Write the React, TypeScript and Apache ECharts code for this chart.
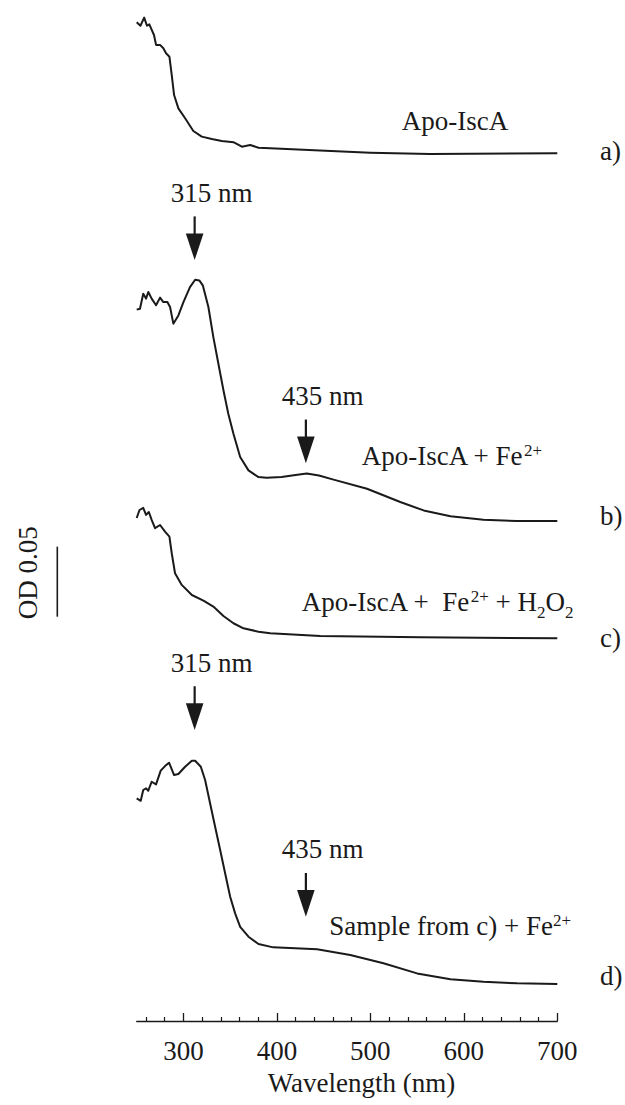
import React, { useEffect, useRef } from "react";
import * as echarts from "echarts";

// ---- Data ----
const MAJOR_TICKS = [300, 400, 500, 600, 700];
const MINOR_TICKS = [260, 280, 320, 340, 360, 380, 420, 440, 460, 480, 520, 540, 560, 580, 620, 640, 660, 680];

// a) Apo-IscA
const NM_A = [250, 254, 258, 261, 263.5, 265.6, 268.5, 270.7, 275, 278.5, 281.4, 285, 287.5, 290, 294.6, 301.8, 310.6, 319.6, 330.4, 341, 353.5, 362.5, 371.4, 380.3, 392.8, 446, 500, 564, 700];
const OD_A = [0.0936, 0.0911, 0.0969, 0.0911, 0.0921, 0.0888, 0.0845, 0.0774, 0.0774, 0.075, 0.0714, 0.069, 0.0559, 0.0416, 0.0321, 0.025, 0.0159, 0.0119, 0.0102, 0.0088, 0.0079, 0.0047, 0.0059, 0.004, 0.0036, 0.0019, 0.0004, -0.0005, 0];

// b) Apo-IscA + Fe2+
const NM_B = [250, 253.5, 257, 260, 262.4, 266, 270.7, 275, 278.5, 282.8, 285.7, 289.2, 294.6, 300, 307, 312.5, 317, 320.7, 326.7, 332, 337.4, 342.8, 348, 353.5, 360.7, 369.6, 380.3, 389, 405, 420, 432, 445, 460.6, 496.4, 532, 557, 585.7, 621, 657, 700];
const OD_B = [0.151, 0.1517, 0.1624, 0.1589, 0.1636, 0.1589, 0.1541, 0.1596, 0.1564, 0.1564, 0.1529, 0.141, 0.1469, 0.1564, 0.1671, 0.1724, 0.1719, 0.1684, 0.1529, 0.1314, 0.1124, 0.0934, 0.0767, 0.0624, 0.0457, 0.0362, 0.0314, 0.031, 0.0314, 0.0329, 0.0339, 0.0325, 0.0296, 0.0231, 0.0136, 0.0076, 0.0034, 0.001, 0, 0];

// c) Apo-IscA + Fe2+ + H2O2
const NM_C = [250, 253, 257, 260, 263, 266, 269.6, 275, 280.3, 285, 287.5, 291, 298.2, 309, 321.4, 332, 342.8, 353.5, 364.2, 380.3, 392.8, 446.4, 553.6, 700];
const OD_C = [0.0859, 0.0916, 0.0931, 0.0881, 0.0902, 0.0845, 0.0786, 0.0809, 0.0761, 0.0726, 0.0607, 0.0464, 0.0381, 0.0309, 0.0269, 0.0226, 0.0159, 0.0107, 0.0071, 0.0047, 0.0036, 0.0016, 0.0007, 0];

// d) Sample from c) + Fe2+
const NM_D = [250, 254.3, 257, 260, 262.4, 266, 270.7, 275.7, 280.3, 284.6, 290, 294.6, 301.8, 309, 312.5, 318.6, 323.2, 328.5, 333.9, 339.3, 344.6, 350, 355.3, 360.7, 369.6, 380.3, 396, 443, 478.5, 514, 550, 585.7, 621, 657, 700];
const OD_D = [0.1326, 0.1309, 0.1386, 0.1398, 0.1381, 0.1445, 0.1426, 0.1524, 0.1557, 0.1581, 0.1493, 0.15, 0.1552, 0.1595, 0.1595, 0.1552, 0.1457, 0.1291, 0.1124, 0.0957, 0.0791, 0.0624, 0.0505, 0.0409, 0.0338, 0.0286, 0.0262, 0.0248, 0.0207, 0.0148, 0.0076, 0.0034, 0.0016, 0.0005, 0];

// vertical offsets of the stacked traces (OD)
const OFFSETS = [0.6198, 0.3571, 0.2734, 0.0264];
const TRACE_TAGS = ["a)", "b)", "c)", "d)"];

// arrows: wavelength, tip position (OD on the stacked scale), label
const ARROW_NM = [312, 431, 312, 431];
const ARROW_TIP_OD = [0.5435, 0.3984, 0.2079, 0.0745];
const ARROW_LABELS = ["315 nm", "435 nm", "315 nm", "435 nm"];

const INK = "#1a1a1a";
const FONT = "'Liberation Serif', 'Times New Roman', serif";
const FS = 27;

type Seg = { t: string; k?: "sup" | "sub" };
const TRACE_LABELS: { segs: Seg[]; left: number; baseline: number }[] = [
  { segs: [{ t: "Apo-IscA" }], left: 401.7, baseline: 130 },
  { segs: [{ t: "Apo-IscA + Fe" }, { t: "2+", k: "sup" }], left: 361.7, baseline: 465 },
  {
    segs: [{ t: "Apo-IscA +  Fe" }, { t: "2+", k: "sup" }, { t: " + H" }, { t: "2", k: "sub" }, { t: "O" }, { t: "2", k: "sub" }],
    left: 301.7,
    baseline: 610.7,
  },
  { segs: [{ t: "Sample from c) + Fe" }, { t: "2+", k: "sup" }], left: 329.3, baseline: 935 },
];

function zip(nm: number[], od: number[], off: number) {
  return nm.map((x, i) => [x, +(od[i] + off).toFixed(5)]);
}

function segText(segs: Seg[], left: number, baseline: number, size: number) {
  const cv = document.createElement("canvas");
  const ctx = cv.getContext("2d")!;
  let x = left;
  const els: any[] = [];
  for (const s of segs) {
    const fs = s.k ? size * 0.63 : size;
    const bl = s.k === "sup" ? baseline - size * 0.31 : s.k === "sub" ? baseline + size * 0.27 : baseline;
    ctx.font = `${fs}px "Liberation Serif"`;
    const w = ctx.measureText(s.t).width;
    els.push({
      type: "text",
      x,
      y: bl - 0.3375 * fs,
      silent: true,
      style: {
        text: s.t,
        fontSize: fs,
        fontFamily: FONT,
        fill: INK,
        align: "left",
        verticalAlign: "middle",
        textAlign: "left",
        textVerticalAlign: "middle",
      },
    });
    x += w;
  }
  return els;
}

export default function App() {
  const ref = useRef<HTMLDivElement>(null);
  useEffect(() => {
    document.body.style.margin = "0";
    const chart = echarts.init(ref.current!, null, { renderer: "svg" });
    const datasets = [zip(NM_A, OD_A, OFFSETS[0]), zip(NM_B, OD_B, OFFSETS[1]), zip(NM_C, OD_C, OFFSETS[2]), zip(NM_D, OD_D, OFFSETS[3])];
    chart.setOption({
      animation: false,
      backgroundColor: "#ffffff",
      grid: { left: 136.7, right: 67.7, top: 13, bottom: 84, containLabel: false, outerBoundsMode: "none" },
      xAxis: [
        {
          type: "value",
          min: 250,
          max: 700,
          position: "bottom",
          axisLine: { onZero: false, lineStyle: { color: INK, width: 1.3 } },
          axisTick: { show: true, inside: true, length: 8, customValues: MAJOR_TICKS, lineStyle: { color: INK, width: 1.3 } },
          axisLabel: { customValues: MAJOR_TICKS, margin: 16, fontSize: FS, fontFamily: FONT, color: INK },
          splitLine: { show: false },
          name: "Wavelength (nm)",
          nameLocation: "middle",
          nameGap: 48,
          nameTextStyle: { fontSize: FS, fontFamily: FONT, color: INK, padding: [0, 0, 0, 29] },
        },
        {
          type: "value",
          min: 250,
          max: 700,
          position: "bottom",
          axisLine: { show: false, onZero: false },
          axisTick: { show: true, inside: true, length: 4, customValues: MINOR_TICKS, lineStyle: { color: INK, width: 1.2 } },
          axisLabel: { show: false },
          splitLine: { show: false },
        },
      ],
      yAxis: { type: "value", min: 0, max: 0.72, show: false },
      series: datasets.map((d) => ({
        type: "line",
        data: d,
        xAxisIndex: 0,
        showSymbol: false,
        symbol: "none",
        lineStyle: { color: INK, width: 2, join: "round" },
      })),
    });

    const px = (nm: number, od: number) => chart.convertToPixel({ seriesIndex: 0 }, [nm, od]) as number[];
    const g: any[] = [];
    // arrows
    ARROW_NM.forEach((nm, i) => {
      const [ax, tipY] = px(nm, ARROW_TIP_OD[i]);
      const headH = 26.7;
      const headW = 17.6;
      g.push({
        type: "polygon",
        silent: true,
        shape: { points: [[ax - headW / 2, tipY - headH], [ax + headW / 2, tipY - headH], [ax, tipY]] },
        style: { fill: INK },
      });
      g.push({
        type: "line",
        silent: true,
        shape: { x1: ax, y1: tipY - headH - 17, x2: ax, y2: tipY - headH + 1 },
        style: { stroke: INK, lineWidth: 2.2 },
      });
      g.push(...segText([{ t: ARROW_LABELS[i] }], ax - 24, tipY - 58.3, FS));
    });
    // trace labels
    TRACE_LABELS.forEach((l) => g.push(...segText(l.segs, l.left, l.baseline, FS)));
    // a) b) c) d)
    const tagDy = [6.5, 4.5, 8.5, 1.5];
    OFFSETS.forEach((off, i) => {
      const [, y] = px(700, off);
      g.push(...segText([{ t: TRACE_TAGS[i] }], 600, y + tagDy[i], FS));
    });
    // scale bar OD 0.05
    const [, yb] = px(250, 0.2888);
    const [, yt] = px(250, 0.2888 + 0.05);
    g.push({ type: "line", silent: true, shape: { x1: 57.3, y1: yt, x2: 57.3, y2: yb }, style: { stroke: INK, lineWidth: 1.6 } });
    g.push({
      type: "text",
      x: 27.5,
      y: (yt + yb) / 2 - 9,
      rotation: Math.PI / 2,
      silent: true,
      style: { text: "OD 0.05", fontSize: FS, fontFamily: FONT, fill: INK, align: "center", verticalAlign: "middle", textAlign: "center", textVerticalAlign: "middle" },
    });
    chart.setOption({ graphic: { elements: g } });

    return () => chart.dispose();
  }, []);
  return <div ref={ref} style={{ width: 625, height: 1105 }} />;
}
